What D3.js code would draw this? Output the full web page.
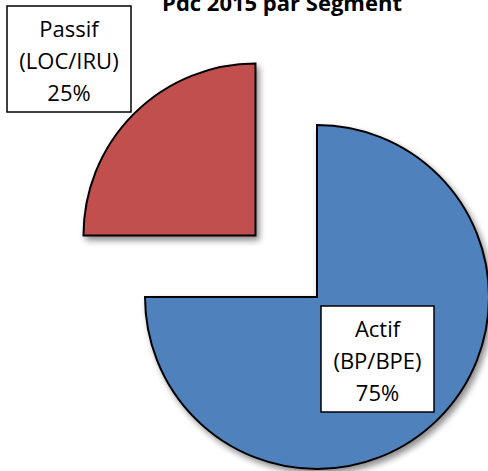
<!DOCTYPE html>
<html>
<head>
<meta charset="utf-8">
<script src="https://cdn.jsdelivr.net/npm/d3@7"></script>
<style>
  body { margin: 0; background: #fff; }
  svg { display: block; }
</style>
</head>
<body>
<div id="chart"></div>
<script>
const width = 488;
const height = 471;

const title = "Pdc 2015 par Segment";
const segments = ["Actif", "Passif"];
const subLabels = ["(BP/BPE)", "(LOC/IRU)"];
const shares = [75, 25];
const colors = ["#4F81BD", "#C0504D"];

const cx = 317;
const cy = 297;
const radius = 172;
const explode = [0, 87];

// label boxes (x, y, w, h)
const boxes = [
  { x: 321, y: 306, w: 113, h: 106 },
  { x: 7, y: 6, w: 124, h: 106 }
];

const data = segments.map((s, i) => ({ name: s, sub: subLabels[i], value: shares[i], color: colors[i], explode: explode[i], box: boxes[i] }));

const svg = d3.select("#chart").append("svg").attr("width", width).attr("height", height);

const defs = svg.append("defs");
const shadow = defs.append("filter").attr("id", "shadow").attr("x", "-20%").attr("y", "-20%").attr("width", "140%").attr("height", "140%");
shadow.append("feGaussianBlur").attr("in", "SourceAlpha").attr("stdDeviation", 3);
shadow.append("feOffset").attr("dx", 3).attr("dy", 4).attr("result", "off");
shadow.append("feComponentTransfer").append("feFuncA").attr("type", "linear").attr("slope", 0.45);
const merge = shadow.append("feMerge");
merge.append("feMergeNode");
merge.append("feMergeNode").attr("in", "SourceGraphic");

// title (sits at the very top, partly cut like the original)
svg.append("text")
  .attr("x", 282)
  .attr("y", 11)
  .attr("text-anchor", "middle")
  .style("font-family", "'Open Sans', sans-serif")
  .style("font-weight", "bold")
  .style("font-size", "22px")
  .text(title);

const pie = d3.pie().sort(null).value((d) => d.value);
const arc = d3.arc().innerRadius(0).outerRadius(radius);

svg.append("g")
  .attr("transform", `translate(${cx},${cy})`)
  .selectAll("path")
  .data(pie(data))
  .enter()
  .append("path")
  .attr("transform", (d) => {
    const a = (d.startAngle + d.endAngle) / 2;
    const e = d.data.explode;
    return `translate(${Math.sin(a) * e},${-Math.cos(a) * e})`;
  })
  .attr("d", arc)
  .attr("fill", (d) => d.data.color)
  .attr("stroke", "#000")
  .attr("stroke-width", 2)
  .attr("filter", "url(#shadow)");

// labels in boxes
const labels = svg.selectAll("g.label")
  .data(data)
  .enter()
  .append("g")
  .attr("class", "label");

labels.append("rect")
  .attr("x", (d) => d.box.x)
  .attr("y", (d) => d.box.y)
  .attr("width", (d) => d.box.w)
  .attr("height", (d) => d.box.h)
  .attr("fill", "#fff")
  .attr("stroke", "#000")
  .attr("stroke-width", 1.5);

labels.each(function (d) {
  const lines = [d.name, d.sub, d.value + "%"];
  const g = d3.select(this);
  lines.forEach((t, i) => {
    g.append("text")
      .attr("x", d.box.x + d.box.w / 2)
      .attr("y", d.box.y + 31 + i * 32)
      .attr("text-anchor", "middle")
      .style("font-family", "'Open Sans', sans-serif")
      .style("font-size", "22px")
      .attr("fill", "#000")
      .text(t);
  });
});
</script>
</body>
</html>
